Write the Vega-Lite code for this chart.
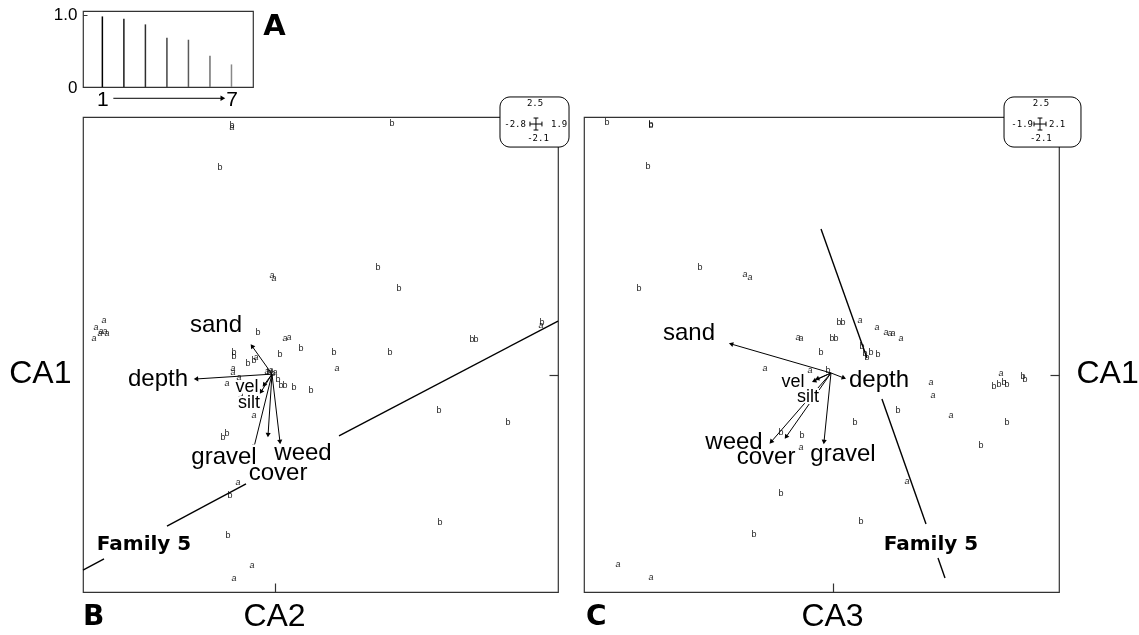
{
"$schema": "https://vega.github.io/schema/vega-lite/v6.json",
"padding": {"left": 8, "top": 5, "right": 0, "bottom": 0},
"background": "white",
"config": {"view": {"stroke": "#333", "strokeWidth": 1.2}, "font": "Liberation Sans", "axis": {"labelColor": "black", "tickColor": "#333", "titleColor": "black", "titleFontWeight": "normal", "titleFont": "Liberation Sans", "grid": false}},
"datasets": {
"eig": [{"k":1,"v":0.975},{"k":2,"v":0.943},{"k":3,"v":0.865},{"k":4,"v":0.681},{"k":5,"v":0.653},{"k":6,"v":0.432},{"k":7,"v":0.312}],
"bLine": [{"x":-1.9,"y":-1.887,"x2":-1.692,"y2":-1.780},{"x":-1.069,"y":-1.461,"x2":-0.287,"y2":-1.054},{"x":0.633,"y":-0.589,"x2":2.8,"y2":0.524}],
"cLine": [{"x":-0.104,"y":1.415,"x2":0.283,"y2":0.166},{"x":0.409,"y":-0.231,"x2":0.780,"y2":-1.441},{"x":0.881,"y":-1.771,"x2":0.940,"y2":-1.964}],
"bArrow": [{"var":"sand","x":-0.03,"y":0.01,"x2":-0.228,"y2":0.282},{"var":"depth","x":-0.03,"y":0.01,"x2":-0.782,"y2":-0.037},{"var":"vel","x":-0.03,"y":0.01,"x2":-0.139,"y2":-0.163},{"var":"silt","x":-0.03,"y":0.01,"x2":-0.109,"y2":-0.095},{"var":"gravel","x":-0.03,"y":0.01,"x2":-0.208,"y2":-0.696},{"var":"cover","x":-0.03,"y":0.01,"x2":-0.069,"y2":-0.580},{"var":"weed","x":-0.03,"y":0.01,"x2":0.049,"y2":-0.647}],
"cArrow": [{"var":"sand","x":-0.02,"y":0.021,"x2":-0.862,"y2":0.302},{"var":"depth","x":-0.02,"y":0.021,"x2":0.089,"y2":-0.028},{"var":"vel","x":-0.02,"y":0.021,"x2":-0.163,"y2":-0.057},{"var":"silt","x":-0.02,"y":0.021,"x2":-0.138,"y2":-0.037},{"var":"weed","x":-0.02,"y":0.021,"x2":-0.525,"y2":-0.647},{"var":"cover","x":-0.02,"y":0.021,"x2":-0.399,"y2":-0.599},{"var":"gravel","x":-0.02,"y":0.021,"x2":-0.079,"y2":-0.647}],
"bLab": [{"var":"sand","x":-0.584,"y":0.486},{"var":"depth","x":-1.158,"y":-0.037},{"var":"vel","x":-0.277,"y":-0.115},{"var":"silt","x":-0.257,"y":-0.270},{"var":"gravel","x":-0.505,"y":-0.793},{"var":"cover","x":0.030,"y":-0.948},{"var":"weed","x":0.277,"y":-0.754}],
"cLab": [{"var":"sand","x":-1.216,"y":0.408},{"var":"depth","x":0.384,"y":-0.047},{"var":"vel","x":-0.340,"y":-0.066},{"var":"silt","x":-0.214,"y":-0.212},{"var":"weed","x":-0.837,"y":-0.647},{"var":"cover","x":-0.567,"y":-0.793},{"var":"gravel","x":0.081,"y":-0.764}],
"bFam": [{"label":"Family 5","x":-1.296,"y":-1.635}],
"cFam": [{"label":"Family 5","x":0.822,"y":-1.635}],
"bPts": [{"g":"b","x":-0.426,"y":2.422},{"g":"a","x":-0.426,"y":2.403},{"g":"b","x":1.158,"y":2.442},{"g":"b","x":-0.544,"y":2.016},{"g":"a","x":-0.030,"y":0.970},{"g":"a","x":-0.010,"y":0.941},{"g":"b","x":1.019,"y":1.047},{"g":"b","x":1.227,"y":0.844},{"g":"a","x":-1.692,"y":0.534},{"g":"a","x":-1.771,"y":0.466},{"g":"a","x":-1.722,"y":0.428},{"g":"a","x":-1.682,"y":0.428},{"g":"a","x":-1.663,"y":0.408},{"g":"a","x":-1.791,"y":0.360},{"g":"a","x":-1.732,"y":0.408},{"g":"b","x":-0.168,"y":0.418},{"g":"a","x":0.099,"y":0.360},{"g":"a","x":0.138,"y":0.369},{"g":"b","x":0.257,"y":0.263},{"g":"b","x":0.049,"y":0.205},{"g":"b","x":-0.406,"y":0.224},{"g":"b","x":-0.406,"y":0.185},{"g":"b","x":-0.267,"y":0.118},{"g":"b","x":-0.208,"y":0.147},{"g":"a","x":-0.188,"y":0.176},{"g":"a","x":-0.416,"y":0.069},{"g":"a","x":-0.416,"y":0.030},{"g":"a","x":-0.079,"y":0.040},{"g":"b","x":-0.060,"y":0.030},{"g":"a","x":-0.040,"y":0.050},{"g":"b","x":-0.020,"y":0.021},{"g":"a","x":0.000,"y":0.030},{"g":"a","x":-0.356,"y":-0.018},{"g":"a","x":-0.475,"y":-0.076},{"g":"b","x":0.030,"y":-0.037},{"g":"b","x":0.059,"y":-0.095},{"g":"b","x":0.099,"y":-0.095},{"g":"b","x":0.188,"y":-0.115},{"g":"b","x":0.356,"y":-0.144},{"g":"a","x":-0.337,"y":-0.192},{"g":"a","x":-0.208,"y":-0.386},{"g":"b","x":-0.515,"y":-0.599},{"g":"b","x":-0.475,"y":-0.560},{"g":"b","x":0.584,"y":0.224},{"g":"a","x":0.613,"y":0.069},{"g":"b","x":1.138,"y":0.224},{"g":"b","x":1.949,"y":0.350},{"g":"b","x":1.989,"y":0.350},{"g":"b","x":2.642,"y":0.515},{"g":"a","x":2.632,"y":0.486},{"g":"b","x":1.623,"y":-0.338},{"g":"b","x":2.305,"y":-0.454},{"g":"a","x":-0.366,"y":-1.035},{"g":"b","x":-0.445,"y":-1.161},{"g":"b","x":-0.465,"y":-1.548},{"g":"a","x":-0.228,"y":-1.839},{"g":"a","x":-0.406,"y":-1.964},{"g":"b","x":1.633,"y":-1.422}],
"cPts": [{"g":"b","x":-1.906,"y":2.451},{"g":"b","x":-1.536,"y":2.432},{"g":"b","x":-1.536,"y":2.422},{"g":"b","x":-1.561,"y":2.025},{"g":"b","x":-1.123,"y":1.047},{"g":"a","x":-0.744,"y":0.980},{"g":"a","x":-0.702,"y":0.950},{"g":"b","x":-1.637,"y":0.844},{"g":"b","x":0.047,"y":0.515},{"g":"b","x":0.081,"y":0.515},{"g":"a","x":0.224,"y":0.534},{"g":"a","x":0.367,"y":0.466},{"g":"a","x":0.443,"y":0.418},{"g":"a","x":0.477,"y":0.408},{"g":"a","x":0.502,"y":0.408},{"g":"a","x":0.569,"y":0.360},{"g":"a","x":-0.298,"y":0.369},{"g":"a","x":-0.273,"y":0.360},{"g":"b","x":-0.012,"y":0.360},{"g":"b","x":0.022,"y":0.360},{"g":"b","x":-0.104,"y":0.224},{"g":"b","x":0.241,"y":0.282},{"g":"b","x":0.317,"y":0.224},{"g":"b","x":0.266,"y":0.214},{"g":"b","x":0.376,"y":0.205},{"g":"b","x":0.283,"y":0.176},{"g":"a","x":-0.576,"y":0.069},{"g":"a","x":-0.197,"y":0.050},{"g":"b","x":-0.045,"y":0.050},{"g":"b","x":0.544,"y":-0.338},{"g":"b","x":0.182,"y":-0.454},{"g":"b","x":-0.264,"y":-0.580},{"g":"b","x":-0.441,"y":-0.551},{"g":"a","x":-0.273,"y":-0.696},{"g":"b","x":-0.441,"y":-1.141},{"g":"a","x":0.620,"y":-1.025},{"g":"a","x":0.822,"y":-0.066},{"g":"a","x":0.839,"y":-0.192},{"g":"a","x":0.991,"y":-0.386},{"g":"b","x":1.243,"y":-0.676},{"g":"a","x":1.412,"y":0.021},{"g":"b","x":1.353,"y":-0.105},{"g":"b","x":1.395,"y":-0.086},{"g":"b","x":1.437,"y":-0.066},{"g":"b","x":1.462,"y":-0.086},{"g":"b","x":1.597,"y":-0.008},{"g":"b","x":1.614,"y":-0.037},{"g":"b","x":1.462,"y":-0.454},{"g":"b","x":0.233,"y":-1.412},{"g":"b","x":-0.668,"y":-1.538},{"g":"a","x":-1.814,"y":-1.829},{"g":"a","x":-1.536,"y":-1.955}]
},
"columns": 2,
"spacing": {"row": 30, "column": 26},
"bounds": "flush",
"concat": [
{
 "width": 170, "height": 76,
 "layer": [
  {"data": {"name": "eig"}, "mark": {"type": "rule", "strokeWidth": 1.5},
   "encoding": {
    "x": {"field": "k", "type": "quantitative", "scale": {"domain": [0.1, 8], "nice": false, "zero": false}, "axis": {"values": [1, 7], "labelFontSize": 21, "ticks": false, "domain": false, "title": null, "labelPadding": 1, "labelFlush": false}},
    "y": {"field": "v", "type": "quantitative", "scale": {"domain": [0, 1.05], "nice": false}, "axis": {"values": [0, 0.1, 0.2, 0.3, 0.4, 0.5, 0.6, 0.7, 0.8, 0.9, 1], "tickSize": -4, "labelExpr": "datum.value == 0 ? '0' : (datum.value == 1 ? '1.0' : '')", "labelFontSize": 17, "domain": false, "title": null, "labelPadding": 10, "labelFlush": false}},
    "y2": {"datum": 0},
    "color": {"field": "k", "type": "quantitative", "scale": {"range": ["#000000", "#888888"]}, "legend": null}
   }},
  {"data": {"values": [{}]}, "mark": {"type": "rule", "color": "black", "strokeWidth": 1}, "encoding": {"x": {"datum": 1.51}, "x2": {"datum": 6.6}, "y": {"datum": -0.156}}},
  {"data": {"values": [{}]}, "mark": {"type": "point", "shape": "triangle-right", "filled": true, "color": "black", "size": 30, "opacity": 1}, "encoding": {"x": {"datum": 6.6}, "y": {"datum": -0.156}}},
  {"data": {"values": [{}]}, "mark": {"type": "text", "text": "A", "font": "DejaVu Sans", "fontWeight": "bold", "fontSize": 29, "align": "left", "baseline": "alphabetic"}, "encoding": {"x": {"datum": 8.48}, "y": {"datum": 0.72}}}
 ]
},
{"width": 475, "height": 76, "data": {"values": []}, "mark": "point", "view": {"stroke": null}},
{
 "width": 475, "height": 475,
 "layer": [
  {"data": {"name": "bLine"}, "mark": {"type": "rule", "color": "black", "strokeWidth": 1.4}, "encoding": {
    "x": {"field": "x", "type": "quantitative", "scale": {"domain": [-1.9, 2.8], "nice": false, "zero": false}, "axis": {"orient": "bottom", "values": [0], "tickSize": -9, "tickWidth": 1.2, "labels": false, "ticks": true, "domain": false, "title": "CA2", "titleFontSize": 32, "titleX": 191, "titleY": 33, "titleAlign": "center", "titleBaseline": "alphabetic"}},
    "y": {"field": "y", "type": "quantitative", "scale": {"domain": [-2.1, 2.5], "nice": false, "zero": false}, "axis": {"orient": "right", "values": [0], "tickSize": -9, "tickWidth": 1.2, "labels": false, "ticks": true, "domain": false, "title": "CA1", "titleFontSize": 32, "titleAngle": 0, "titleX": -487, "titleY": 255, "titleAlign": "right", "titleBaseline": "middle"}},
    "x2": {"field": "x2"}, "y2": {"field": "y2"}}},
  {"data": {"name": "bArrow"}, "mark": {"type": "rule", "color": "black", "strokeWidth": 1}, "encoding": {
    "x": {"field": "x", "type": "quantitative"},
    "y": {"field": "y", "type": "quantitative"},
    "x2": {"field": "x2"}, "y2": {"field": "y2"}}},
  {"data": {"name": "bArrow"}, "transform": [{"calculate": "atan2((datum.x2 - datum.x) * 101.06, (datum.y2 - datum.y) * 103.26) * 180 / PI", "as": "ang"}], "mark": {"type": "point", "shape": "triangle-up", "filled": true, "color": "black", "size": 26, "opacity": 1}, "encoding": {
    "x": {"field": "x2", "type": "quantitative"},
    "y": {"field": "y2", "type": "quantitative"},
    "angle": {"field": "ang", "type": "quantitative", "scale": null}}},
  {"data": {"name": "bPts"}, "transform": [{"filter": "datum.g == 'a'"}], "mark": {"type": "text", "fontSize": 9, "fontStyle": "italic", "color": "#222", "blend": "multiply"}, "encoding": {
    "x": {"field": "x", "type": "quantitative"},
    "y": {"field": "y", "type": "quantitative"},
    "text": {"field": "g"}}},
  {"data": {"name": "bPts"}, "transform": [{"filter": "datum.g == 'b'"}], "mark": {"type": "text", "fontSize": 9, "color": "#222", "blend": "multiply"}, "encoding": {
    "x": {"field": "x", "type": "quantitative"},
    "y": {"field": "y", "type": "quantitative"},
    "text": {"field": "g"}}},
  {"data": {"name": "bLab"}, "transform": [{"filter": "datum.var != 'vel' && datum.var != 'silt'"}], "mark": {"type": "text", "fontSize": 24, "color": "white", "stroke": "white", "strokeWidth": 5}, "encoding": {
    "x": {"field": "x", "type": "quantitative"},
    "y": {"field": "y", "type": "quantitative"},
    "text": {"field": "var"}}},
  {"data": {"name": "bLab"}, "transform": [{"filter": "datum.var == 'vel' || datum.var == 'silt'"}], "mark": {"type": "text", "fontSize": 18, "color": "white", "stroke": "white", "strokeWidth": 4}, "encoding": {
    "x": {"field": "x", "type": "quantitative"},
    "y": {"field": "y", "type": "quantitative"},
    "text": {"field": "var"}}},
  {"data": {"name": "bLab"}, "transform": [{"filter": "datum.var != 'vel' && datum.var != 'silt'"}], "mark": {"type": "text", "fontSize": 24, "color": "black"}, "encoding": {
    "x": {"field": "x", "type": "quantitative"},
    "y": {"field": "y", "type": "quantitative"},
    "text": {"field": "var"}}},
  {"data": {"name": "bLab"}, "transform": [{"filter": "datum.var == 'vel' || datum.var == 'silt'"}], "mark": {"type": "text", "fontSize": 18, "color": "black"}, "encoding": {
    "x": {"field": "x", "type": "quantitative"},
    "y": {"field": "y", "type": "quantitative"},
    "text": {"field": "var"}}},
  {"data": {"name": "bFam"}, "mark": {"type": "text", "font": "DejaVu Sans", "fontWeight": "bold", "fontSize": 20, "color": "black"}, "encoding": {
    "x": {"field": "x", "type": "quantitative"},
    "y": {"field": "y", "type": "quantitative"},
    "text": {"field": "label"}}},
  {"data": {"values": [{}]}, "mark": {"type": "rect", "fill": "white", "stroke": "black", "strokeWidth": 1, "cornerRadius": 10}, "encoding": {"x": {"datum": 2.226}, "x2": {"datum": 2.909}, "y": {"datum": 2.694}, "y2": {"datum": 2.209}}},
  {"data": {"values": [{}]}, "mark": {"type": "text", "text": "2.5", "font": "DejaVu Sans Mono", "fontSize": 9, "color": "black"}, "encoding": {"x": {"datum": 2.573}, "y": {"datum": 2.635}}},
  {"data": {"values": [{}]}, "mark": {"type": "text", "text": "-2.8", "font": "DejaVu Sans Mono", "fontSize": 9, "color": "black", "align": "right"}, "encoding": {"x": {"datum": 2.483}, "y": {"datum": 2.432}}},
  {"data": {"values": [{}]}, "mark": {"type": "text", "text": "1.9", "font": "DejaVu Sans Mono", "fontSize": 9, "color": "black", "align": "left"}, "encoding": {"x": {"datum": 2.731}, "y": {"datum": 2.432}}},
  {"data": {"values": [{}]}, "mark": {"type": "text", "text": "-2.1", "font": "DejaVu Sans Mono", "fontSize": 9, "color": "black"}, "encoding": {"x": {"datum": 2.602}, "y": {"datum": 2.297}}},
  {"data": {"values": [{}]}, "mark": {"type": "point", "shape": "M-1,0L1,0M-1,-0.4L-1,0.4M1,-0.4L1,0.4M0,-1L0,1M-0.4,-1L0.4,-1M-0.4,1L0.4,1", "filled": false, "stroke": "black", "strokeWidth": 1, "size": 144, "opacity": 1}, "encoding": {"x": {"datum": 2.582}, "y": {"datum": 2.432}}},
  {"data": {"values": [{}]}, "mark": {"type": "text", "text": "B", "font": "DejaVu Sans", "fontWeight": "bold", "fontSize": 28, "align": "left", "baseline": "alphabetic", "color": "black"}, "encoding": {"x": {"datum": -1.9}, "y": {"datum": -2.42}}}
 ]
},
{
 "width": 475, "height": 475,
 "layer": [
  {"data": {"name": "cLine"}, "mark": {"type": "rule", "color": "black", "strokeWidth": 1.4}, "encoding": {
    "x": {"field": "x", "type": "quantitative", "scale": {"domain": [-2.1, 1.9], "nice": false, "zero": false}, "axis": {"orient": "bottom", "values": [0], "tickSize": -9, "tickWidth": 1.2, "labels": false, "ticks": true, "domain": false, "title": "CA3", "titleFontSize": 32, "titleX": 248, "titleY": 33, "titleAlign": "center", "titleBaseline": "alphabetic"}},
    "y": {"field": "y", "type": "quantitative", "scale": {"domain": [-2.1, 2.5], "nice": false, "zero": false}, "axis": {"orient": "right", "values": [0], "tickSize": -9, "tickWidth": 1.2, "labels": false, "ticks": true, "domain": false, "title": "CA1", "titleFontSize": 32, "titleAngle": 0, "titleX": 17, "titleY": 255, "titleAlign": "left", "titleBaseline": "middle"}},
    "x2": {"field": "x2"}, "y2": {"field": "y2"}}},
  {"data": {"name": "cArrow"}, "mark": {"type": "rule", "color": "black", "strokeWidth": 1}, "encoding": {
    "x": {"field": "x", "type": "quantitative"},
    "y": {"field": "y", "type": "quantitative"},
    "x2": {"field": "x2"}, "y2": {"field": "y2"}}},
  {"data": {"name": "cArrow"}, "transform": [{"calculate": "atan2((datum.x2 - datum.x) * 118.75, (datum.y2 - datum.y) * 103.26) * 180 / PI", "as": "ang"}], "mark": {"type": "point", "shape": "triangle-up", "filled": true, "color": "black", "size": 26, "opacity": 1}, "encoding": {
    "x": {"field": "x2", "type": "quantitative"},
    "y": {"field": "y2", "type": "quantitative"},
    "angle": {"field": "ang", "type": "quantitative", "scale": null}}},
  {"data": {"name": "cPts"}, "transform": [{"filter": "datum.g == 'a'"}], "mark": {"type": "text", "fontSize": 9, "fontStyle": "italic", "color": "#222", "blend": "multiply"}, "encoding": {
    "x": {"field": "x", "type": "quantitative"},
    "y": {"field": "y", "type": "quantitative"},
    "text": {"field": "g"}}},
  {"data": {"name": "cPts"}, "transform": [{"filter": "datum.g == 'b'"}], "mark": {"type": "text", "fontSize": 9, "color": "#222", "blend": "multiply"}, "encoding": {
    "x": {"field": "x", "type": "quantitative"},
    "y": {"field": "y", "type": "quantitative"},
    "text": {"field": "g"}}},
  {"data": {"name": "cLab"}, "transform": [{"filter": "datum.var != 'vel' && datum.var != 'silt'"}], "mark": {"type": "text", "fontSize": 24, "color": "white", "stroke": "white", "strokeWidth": 5}, "encoding": {
    "x": {"field": "x", "type": "quantitative"},
    "y": {"field": "y", "type": "quantitative"},
    "text": {"field": "var"}}},
  {"data": {"name": "cLab"}, "transform": [{"filter": "datum.var == 'vel' || datum.var == 'silt'"}], "mark": {"type": "text", "fontSize": 18, "color": "white", "stroke": "white", "strokeWidth": 4}, "encoding": {
    "x": {"field": "x", "type": "quantitative"},
    "y": {"field": "y", "type": "quantitative"},
    "text": {"field": "var"}}},
  {"data": {"name": "cLab"}, "transform": [{"filter": "datum.var != 'vel' && datum.var != 'silt'"}], "mark": {"type": "text", "fontSize": 24, "color": "black"}, "encoding": {
    "x": {"field": "x", "type": "quantitative"},
    "y": {"field": "y", "type": "quantitative"},
    "text": {"field": "var"}}},
  {"data": {"name": "cLab"}, "transform": [{"filter": "datum.var == 'vel' || datum.var == 'silt'"}], "mark": {"type": "text", "fontSize": 18, "color": "black"}, "encoding": {
    "x": {"field": "x", "type": "quantitative"},
    "y": {"field": "y", "type": "quantitative"},
    "text": {"field": "var"}}},
  {"data": {"name": "cFam"}, "mark": {"type": "text", "font": "DejaVu Sans", "fontWeight": "bold", "fontSize": 20, "color": "black"}, "encoding": {
    "x": {"field": "x", "type": "quantitative"},
    "y": {"field": "y", "type": "quantitative"},
    "text": {"field": "label"}}},
  {"data": {"values": [{}]}, "mark": {"type": "rect", "fill": "white", "stroke": "black", "strokeWidth": 1, "cornerRadius": 10}, "encoding": {"x": {"datum": 1.437}, "x2": {"datum": 2.085}, "y": {"datum": 2.694}, "y2": {"datum": 2.209}}},
  {"data": {"values": [{}]}, "mark": {"type": "text", "text": "2.5", "font": "DejaVu Sans Mono", "fontSize": 9, "color": "black"}, "encoding": {"x": {"datum": 1.748}, "y": {"datum": 2.635}}},
  {"data": {"values": [{}]}, "mark": {"type": "text", "text": "-1.9", "font": "DejaVu Sans Mono", "fontSize": 9, "color": "black", "align": "right"}, "encoding": {"x": {"datum": 1.681}, "y": {"datum": 2.432}}},
  {"data": {"values": [{}]}, "mark": {"type": "text", "text": "2.1", "font": "DejaVu Sans Mono", "fontSize": 9, "color": "black", "align": "left"}, "encoding": {"x": {"datum": 1.816}, "y": {"datum": 2.432}}},
  {"data": {"values": [{}]}, "mark": {"type": "text", "text": "-2.1", "font": "DejaVu Sans Mono", "fontSize": 9, "color": "black"}, "encoding": {"x": {"datum": 1.748}, "y": {"datum": 2.297}}},
  {"data": {"values": [{}]}, "mark": {"type": "point", "shape": "M-1,0L1,0M-1,-0.4L-1,0.4M1,-0.4L1,0.4M0,-1L0,1M-0.4,-1L0.4,-1M-0.4,1L0.4,1", "filled": false, "stroke": "black", "strokeWidth": 1, "size": 144, "opacity": 1}, "encoding": {"x": {"datum": 1.740}, "y": {"datum": 2.432}}},
  {"data": {"values": [{}]}, "mark": {"type": "text", "text": "C", "font": "DejaVu Sans", "fontWeight": "bold", "fontSize": 28, "align": "left", "baseline": "alphabetic", "color": "black"}, "encoding": {"x": {"datum": -2.083}, "y": {"datum": -2.42}}}
 ]
}
]
}
